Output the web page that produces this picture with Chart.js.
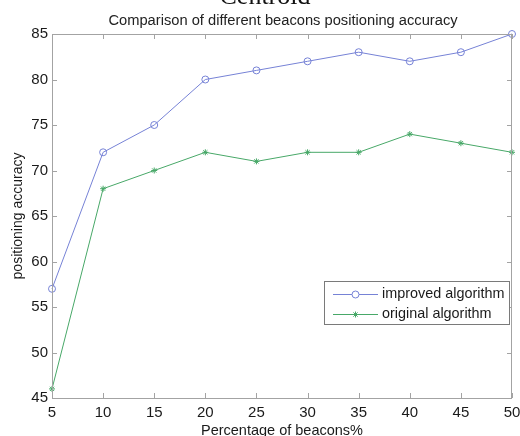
<!DOCTYPE html>
<html>
<head>
<meta charset="utf-8">
<script src="https://cdn.jsdelivr.net/npm/chart.js@4/dist/chart.umd.min.js"></script>
<style>
  html, body { margin: 0; padding: 0; background: #fff; }
  #wrap { width: 520px; height: 436px; position: relative; }
</style>
</head>
<body>
<div id="wrap"><canvas id="c" width="520" height="436"></canvas></div>
<script>
// Percentage of beacons (x) and accuracy of each algorithm (y)
const beaconPercent = [5, 10, 15, 20, 25, 30, 35, 40, 45, 50];
const improvedAccuracy = [57, 72, 75, 80, 81, 82, 83, 82, 83, 85];
const originalAccuracy = [46, 68, 70, 72, 71, 72, 72, 74, 73, 72];
const xTicks = [5, 10, 15, 20, 25, 30, 35, 40, 45, 50];
const yTicks = [45, 50, 55, 60, 65, 70, 75, 80, 85];

const seriesNames = ['improved algorithm', 'original algorithm'];
const blue = 'rgb(118,130,214)';
const green = 'rgb(72,168,104)';
const axisGrey = '#a3a3a3';
const sans = '"Liberation Sans", Arial, sans-serif';

const toPoints = ys => beaconPercent.map((x, i) => ({ x, y: ys[i] }));

// Frame box with inward ticks on all four sides
const framePlugin = {
  id: 'frame',
  afterDraw(chart) {
    const { ctx, chartArea: a, scales } = chart;
    ctx.save();
    ctx.strokeStyle = axisGrey;
    ctx.lineWidth = 1;
    ctx.strokeRect(a.left + 0.5, a.top + 0.5, a.right - a.left - 1, a.bottom - a.top);
    const len = 5;
    ctx.beginPath();
    xTicks.forEach(v => {
      const px = Math.round(scales.x.getPixelForValue(v)) + 0.5;
      ctx.moveTo(px, a.bottom); ctx.lineTo(px, a.bottom - len);
      ctx.moveTo(px, a.top); ctx.lineTo(px, a.top + len);
    });
    yTicks.forEach(v => {
      const py = Math.round(scales.y.getPixelForValue(v)) + 0.5;
      ctx.moveTo(a.left, py); ctx.lineTo(a.left + len, py);
      ctx.moveTo(a.right, py); ctx.lineTo(a.right - len, py);
    });
    ctx.stroke();
    ctx.restore();
  }
};

// Titles above the axes
const titlePlugin = {
  id: 'titles',
  afterDraw(chart) {
    const { ctx } = chart;
    ctx.save();
    ctx.fillStyle = '#111';
    ctx.textAlign = 'center';
    ctx.textBaseline = 'alphabetic';
    ctx.font = '26px "Liberation Serif", "Times New Roman", serif';
    ctx.fillText('Centroid', 265, 4);
    ctx.fillStyle = '#222';
    ctx.font = '14.7px ' + sans;
    ctx.fillText('Comparison of different beacons positioning accuracy', 283, 24.5);
    ctx.restore();
  }
};

// Legend box placed inside the plot
const legendPlugin = {
  id: 'boxLegend',
  afterDraw(chart) {
    const { ctx } = chart;
    const box = { x: 324.5, y: 281.5, w: 185, h: 43 };
    ctx.save();
    ctx.fillStyle = '#fff';
    ctx.fillRect(box.x, box.y, box.w, box.h);
    ctx.strokeStyle = '#7a7a7a';
    ctx.lineWidth = 1;
    ctx.strokeRect(box.x, box.y, box.w, box.h);
    chart.data.datasets.forEach((ds, i) => {
      const y = 294.5 + i * 20;
      ctx.strokeStyle = ds.borderColor;
      ctx.lineWidth = 1;
      ctx.beginPath();
      ctx.moveTo(333, y); ctx.lineTo(378, y);
      ctx.stroke();
      Chart.helpers.drawPoint(ctx, {
        pointStyle: ds.pointStyle, radius: ds.pointRadius, borderWidth: 1, rotation: 0
      }, 355.5, y);
      ctx.fillStyle = '#1a1a1a';
      ctx.font = '14.4px ' + sans;
      ctx.textAlign = 'left';
      ctx.textBaseline = 'middle';
      ctx.fillText(seriesNames[i], 382, y);
    });
    ctx.restore();
  }
};

new Chart(document.getElementById('c'), {
  type: 'line',
  data: {
    datasets: [
      {
        label: seriesNames[0],
        data: toPoints(improvedAccuracy),
        borderColor: blue,
        backgroundColor: 'rgba(0,0,0,0)',
        borderWidth: 1,
        pointStyle: 'circle',
        pointRadius: 3.5,
        pointBorderWidth: 1,
        pointBorderColor: blue,
        pointBackgroundColor: 'rgba(0,0,0,0)',
        tension: 0
      },
      {
        label: seriesNames[1],
        data: toPoints(originalAccuracy),
        borderColor: green,
        backgroundColor: 'rgba(0,0,0,0)',
        borderWidth: 1,
        pointStyle: 'star',
        pointRadius: 3,
        pointBorderWidth: 1,
        pointBorderColor: green,
        pointBackgroundColor: green,
        tension: 0
      }
    ]
  },
  options: {
    responsive: false,
    animation: false,
    clip: false,
    layout: { padding: { top: 34, right: 8, left: 0, bottom: 0 } },
    plugins: { legend: { display: false }, tooltip: { enabled: false }, title: { display: false } },
    scales: {
      x: {
        type: 'linear',
        min: 5, max: 50,
        afterBuildTicks: s => { s.ticks = xTicks.map(v => ({ value: v })); },
        afterFit: s => { s.height = 38; s.paddingLeft = 0; s.paddingRight = 0; },
        grid: { display: false, drawTicks: false },
        border: { display: false },
        ticks: { color: '#1a1a1a', font: { family: sans, size: 15 }, padding: 6, maxRotation: 0 },
        title: {
          display: true, text: 'Percentage of beacons%', color: '#1a1a1a',
          font: { family: sans, size: 14.5 }, padding: { top: 0, bottom: -4 }
        }
      },
      y: {
        type: 'linear',
        min: 45, max: 85,
        afterBuildTicks: s => { s.ticks = yTicks.map(v => ({ value: v })); },
        afterFit: s => { s.width = 52; s.paddingTop = 0; s.paddingBottom = 0; },
        grid: { display: false, drawTicks: false },
        border: { display: false },
        ticks: { color: '#1a1a1a', font: { family: sans, size: 15 }, padding: 4 },
        title: {
          display: true, text: 'positioning accuracy', color: '#1a1a1a',
          font: { family: sans, size: 14 }, padding: { top: 10, bottom: 0 }
        }
      }
    }
  },
  plugins: [framePlugin, titlePlugin, legendPlugin]
});
</script>
</body>
</html>
